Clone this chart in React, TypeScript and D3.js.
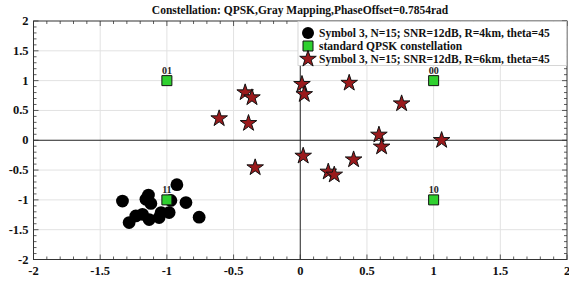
import React, { useEffect, useRef } from "react";
import * as d3 from "d3";

// received symbols, R = 4km
const r4x = [-1.333, -1.138, -1.157, -1.12, -0.925, -0.97, -0.857, -0.758, -0.983, -1.058, -1.183, -1.233, -1.283, -1.043, -1.133];
const r4y = [-1.02, -0.92, -0.99, -1.06, -0.745, -1.01, -1.045, -1.29, -1.213, -1.297, -1.242, -1.27, -1.38, -1.213, -1.33];

// received symbols, R = 6km
const r6x = [-0.608, -0.413, -0.362, -0.388, -0.338, 0.013, 0.03, 0.022, 0.367, 0.76, 0.59, 0.61, 1.06, 0.4, 0.21, 0.255];
const r6y = [0.364, 0.8, 0.716, 0.285, -0.458, 0.94, 0.77, -0.263, 0.96, 0.615, 0.09, -0.11, 0.0, -0.325, -0.53, -0.58];

// ideal QPSK points and their gray labels
const refX = [1, -1, -1, 1];
const refY = [1, 1, -1, -1];
const refLabels = ["00", "01", "11", "10"];

const ticks = [-2, -1.5, -1, -0.5, 0, 0.5, 1, 1.5, 2];
const tickLabels = ["-2", "-1.5", "-1", "-0.5", "0", "0.5", "1", "1.5", "2"];

const legendLabels = [
  "Symbol 3, N=15; SNR=12dB, R=4km, theta=45",
  "standard QPSK constellation",
  "Symbol 3, N=15; SNR=12dB, R=6km, theta=45",
];

const title = "Constellation: QPSK,Gray Mapping,PhaseOffset=0.7854rad";

const W = 569;
const H = 281;
const FONT = "'Liberation Serif', 'Times New Roman', serif";
const STAR_FILL = "#9a1a1c";
const SQ_FILL = "#2fd02f";

const App = () => {
  const svgRef = useRef(null);

  useEffect(() => {
    const svg = d3.select(svgRef.current);
    svg.selectAll("*").remove();

    const margin = { top: 21, right: 2, bottom: 21.5, left: 33.5 };
    const x = d3.scaleLinear().domain([-2, 2]).range([margin.left, W - margin.right]);
    const y = d3.scaleLinear().domain([-2, 2]).range([H - margin.bottom, margin.top]);

    svg.append("rect").attr("width", W).attr("height", H).attr("fill", "#fff");

    // grid
    const grid = svg.append("g");
    ticks.slice(1, -1).forEach(t => {
      if (t === 0) return;
      grid.append("line").attr("x1", x(t)).attr("x2", x(t)).attr("y1", y(2)).attr("y2", y(-2))
        .attr("stroke", "#e2e2e2").attr("stroke-width", 1);
      grid.append("line").attr("y1", y(t)).attr("y2", y(t)).attr("x1", x(-2)).attr("x2", x(2))
        .attr("stroke", "#e2e2e2").attr("stroke-width", 1);
    });

    // zero lines
    svg.append("line").attr("x1", x(0)).attr("x2", x(0)).attr("y1", y(2)).attr("y2", y(-2))
      .attr("stroke", "#222").attr("stroke-width", 1);
    svg.append("line").attr("y1", y(0)).attr("y2", y(0)).attr("x1", x(-2)).attr("x2", x(2))
      .attr("stroke", "#222").attr("stroke-width", 1);

    // frame with inward ticks
    const minor = d3.range(-20, 21).map(i => i / 10);
    const tickG = svg.append("g").attr("stroke", "#333").attr("stroke-width", 0.8);
    minor.forEach(t => {
      const major = Math.abs(t * 2 - Math.round(t * 2)) < 1e-6;
      const len = major ? 5 : 3;
      tickG.append("line").attr("x1", x(t)).attr("x2", x(t)).attr("y1", y(-2)).attr("y2", y(-2) - len);
      tickG.append("line").attr("x1", x(t)).attr("x2", x(t)).attr("y1", y(2)).attr("y2", y(2) + len);
      tickG.append("line").attr("y1", y(t)).attr("y2", y(t)).attr("x1", x(-2)).attr("x2", x(-2) + len);
      tickG.append("line").attr("y1", y(t)).attr("y2", y(t)).attr("x1", x(2)).attr("x2", x(2) - len);
    });
    svg.append("rect").attr("x", x(-2)).attr("y", y(2)).attr("width", x(2) - x(-2)).attr("height", y(-2) - y(2))
      .attr("fill", "none").attr("stroke", "#333").attr("stroke-width", 1);

    // tick labels
    const lab = svg.append("g").attr("font-family", FONT).attr("font-weight", "bold").attr("font-size", 12.5).attr("fill", "#111");
    ticks.forEach((t, i) => {
      lab.append("text").attr("x", x(t)).attr("y", y(-2) + 15).attr("text-anchor", "middle").text(tickLabels[i]);
      lab.append("text").attr("x", x(-2) - 5).attr("y", y(t) + 4).attr("text-anchor", "end").text(tickLabels[i]);
    });

    // title
    svg.append("text").attr("x", 300).attr("y", 14).attr("text-anchor", "middle")
      .attr("font-family", FONT).attr("font-weight", "bold").attr("font-size", 11.5).attr("fill", "#111")
      .text(title);

    const star = d3.symbol().type(d3.symbolStar).size(85);
    const square = d3.symbol().type(d3.symbolSquare).size(100);

    // R=4km circles
    svg.append("g").selectAll("circle").data(r4x).join("circle")
      .attr("cx", d => x(d)).attr("cy", (d, i) => y(r4y[i])).attr("r", 6.4).attr("fill", "#000");

    // reference squares
    svg.append("g").selectAll("path").data(refX).join("path")
      .attr("d", square()).attr("transform", (d, i) => `translate(${x(d)},${y(refY[i])})`)
      .attr("fill", SQ_FILL).attr("stroke", "#111").attr("stroke-width", 1);

    // R=6km stars
    svg.append("g").selectAll("path").data(r6x).join("path")
      .attr("d", star()).attr("transform", (d, i) => `translate(${x(d)},${y(r6y[i])})`)
      .attr("fill", STAR_FILL).attr("stroke", "#111").attr("stroke-width", 1);

    // legend
    const lg = svg.append("g");
    lg.append("rect").attr("x", 298).attr("y", y(2) + 0.5).attr("width", x(2) - 298 - 0.5).attr("height", 44)
      .attr("fill", "#fff").attr("stroke", "#ccc").attr("stroke-width", 0.8);
    const rows = [33, 46, 59];
    lg.append("circle").attr("cx", 308).attr("cy", rows[0]).attr("r", 6).attr("fill", "#000");
    lg.append("path").attr("d", square()).attr("transform", `translate(308,${rows[1]})`)
      .attr("fill", SQ_FILL).attr("stroke", "#111");
    lg.append("path").attr("d", star()).attr("transform", `translate(308,${rows[2]})`)
      .attr("fill", STAR_FILL).attr("stroke", "#111");
    legendLabels.forEach((t, i) => {
      lg.append("text").attr("x", 319).attr("y", rows[i] + 4)
        .attr("font-family", FONT).attr("font-weight", "bold").attr("font-size", 11.5).attr("fill", "#111")
        .text(t);
    });

    // gray-code labels above the reference points, on top of everything
    svg.append("g").selectAll("text").data(refX).join("text")
      .attr("x", d => x(d)).attr("y", (d, i) => y(refY[i]) - 7).attr("text-anchor", "middle")
      .attr("font-family", FONT).attr("font-weight", "bold").attr("font-size", 10).attr("fill", "#222")
      .text((d, i) => refLabels[i]);
  }, []);

  return (
    <div style={{ position: "absolute", top: 0, left: 0 }}>
      <svg ref={svgRef} width={W} height={H} style={{ display: "block" }} />
    </div>
  );
};

export default App;
